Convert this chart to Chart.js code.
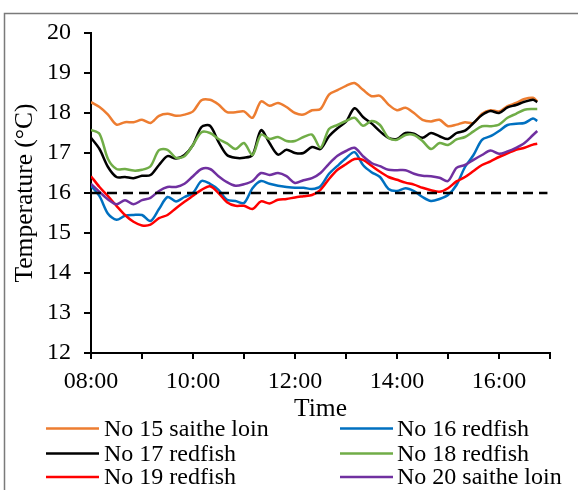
<!DOCTYPE html>
<html><head><meta charset="utf-8">
<script src="https://cdn.jsdelivr.net/npm/chart.js@4.4.1/dist/chart.umd.min.js"></script>
<style>html,body{margin:0;padding:0;background:#fff}canvas{display:block}</style>
</head><body>
<canvas id="c" width="578" height="490"></canvas>
<script>
const times = ["08:00","08:10","08:20","08:30","08:40","08:50","09:00","09:10","09:20","09:30","09:40","09:50",
"10:00","10:10","10:20","10:30","10:40","10:50","11:00","11:10","11:20","11:30","11:40","11:50",
"12:00","12:10","12:20","12:30","12:40","12:50","13:00","13:10","13:20","13:30","13:40","13:50",
"14:00","14:10","14:20","14:30","14:40","14:50","15:00","15:10","15:20","15:30","15:40","15:50",
"16:00","16:10","16:20","16:30","16:40","16:45"];
const seriesNames = ["No 15 saithe loin","No 16 redfish","No 17 redfish","No 18 redfish","No 19 redfish","No 20 saithe loin"];
const no15 = [18.27,18.15,17.96,17.71,17.77,17.77,17.83,17.75,17.93,17.98,17.93,17.96,18.04,18.32,18.33,18.21,18.02,18.02,18.04,17.88,18.29,18.18,18.25,18.15,18.0,17.96,18.07,
18.1,18.46,18.57,18.68,18.75,18.58,18.42,18.43,18.21,18.07,18.13,18.0,17.83,17.79,17.83,17.67,17.71,17.77,17.75,17.98,18.07,18.04,18.17,18.25,18.35,18.38,18.29];
const no16 = [16.18,15.92,15.48,15.33,15.43,15.45,15.45,15.3,15.6,15.9,15.79,15.9,16.0,16.3,16.23,16.08,15.83,15.8,15.75,16.12,16.3,16.23,16.18,16.15,16.13,16.13,16.1,
16.17,16.48,16.68,16.87,17.02,16.7,16.52,16.4,16.1,16.05,16.12,16.05,15.9,15.8,15.85,15.95,16.2,16.65,16.95,17.33,17.42,17.55,17.7,17.73,17.75,17.86,17.8];
const no17 = [17.38,17.1,16.65,16.4,16.4,16.37,16.43,16.45,16.7,16.92,16.86,16.95,17.2,17.65,17.68,17.28,16.95,16.88,16.88,16.95,17.57,17.25,16.96,17.08,17.0,17.0,17.15,
17.1,17.42,17.62,17.78,18.12,17.9,17.74,17.54,17.38,17.35,17.5,17.48,17.38,17.5,17.42,17.35,17.5,17.56,17.75,17.95,18.05,18.0,18.14,18.2,18.28,18.33,18.27];
const no18 = [17.58,17.48,16.85,16.6,16.6,16.56,16.58,16.67,17.07,17.08,16.88,16.92,17.2,17.52,17.5,17.35,17.24,17.1,17.25,16.95,17.46,17.35,17.4,17.3,17.3,17.4,17.46,
17.13,17.6,17.7,17.8,17.88,17.68,17.8,17.7,17.38,17.33,17.45,17.45,17.3,17.1,17.25,17.2,17.34,17.4,17.54,17.67,17.67,17.71,17.88,17.98,18.08,18.1,18.1];
const no19 = [16.42,16.15,15.92,15.68,15.45,15.28,15.19,15.21,15.37,15.45,15.62,15.78,15.93,16.08,16.17,16.0,15.77,15.68,15.68,15.6,15.79,15.74,15.83,15.85,15.89,15.92,15.95,
16.08,16.35,16.58,16.72,16.85,16.83,16.68,16.53,16.4,16.33,16.26,16.21,16.13,16.07,16.03,16.12,16.29,16.4,16.55,16.7,16.79,16.9,16.99,17.08,17.13,17.21,17.23];
const no20 = [16.23,16.03,15.84,15.72,15.82,15.72,15.82,15.88,16.05,16.15,16.15,16.23,16.42,16.6,16.6,16.42,16.27,16.18,16.22,16.3,16.5,16.45,16.5,16.42,16.25,16.32,16.37,
16.5,16.73,16.93,17.05,17.13,16.92,16.75,16.67,16.58,16.57,16.57,16.48,16.43,16.42,16.38,16.3,16.63,16.7,16.83,16.95,17.06,16.98,17.04,17.13,17.25,17.45,17.55];
const referenceTemp = 16;
const xTickLabels = ["08:00","10:00","12:00","14:00","16:00"];
const xRange = ["08:00","17:00"];
const yRange = [12, 20];

const colors = ["#ED7D31","#0070C0","#000000","#70AD47","#FF0000","#7030A0"];
const FONT = '"Liberation Serif","Times New Roman",serif';
const toHours = s => { const [h,m] = s.split(":").map(Number); return h + m/60; };
const seriesValues = [no15,no16,no17,no18,no19,no20];

const datasets = seriesValues.map((vals,i)=>({
  label: seriesNames[i],
  data: vals.map((v,j)=>({x: toHours(times[j]), y: v})),
  borderColor: colors[i], backgroundColor: colors[i],
  borderWidth: 2.5, pointRadius: 0, tension: 0.3, fill: false,
  order: 10 - i
}));
datasets.push({
  label: "16 °C",
  data: [{x: toHours(xRange[0]), y: referenceTemp},{x: toHours(xRange[1]) - 0.05, y: referenceTemp}],
  borderColor: "#000", borderWidth: 2.5, borderDash: [10,6], pointRadius: 0, order: 0
});

const decor = {
  id: 'decor',
  afterDraw(chart){
    const ctx = chart.ctx;
    ctx.save();
    ctx.strokeStyle = '#7a7a7a'; ctx.lineWidth = 1.5;
    ctx.beginPath(); ctx.moveTo(4.5, 490); ctx.lineTo(4.5, 13.5); ctx.lineTo(578, 13.5); ctx.stroke();
    const cols = [{lx:46, tx:104},{lx:340, tx:397}];
    const rows = [428.5, 453.5, 477];
    ctx.font = '24px ' + FONT; ctx.textBaseline = 'middle'; ctx.textAlign = 'left';
    for (let i = 0; i < seriesNames.length; i++){
      const c = cols[i%2], y = rows[Math.floor(i/2)];
      ctx.strokeStyle = colors[i]; ctx.lineWidth = 2.5;
      ctx.beginPath(); ctx.moveTo(c.lx, y); ctx.lineTo(c.lx+53, y); ctx.stroke();
      ctx.fillStyle = '#000';
      ctx.fillText(seriesNames[i], c.tx, y + 1);
    }
    ctx.restore();
  }
};

new Chart(document.getElementById('c'), {
  type: 'line',
  data: { datasets },
  plugins: [decor],
  options: {
    responsive: false, animation: false,
    layout: { padding: { left: 0, top: 33, right: 28, bottom: 0 } },
    plugins: { legend: { display: false }, tooltip: { enabled: false } },
    scales: {
      x: {
        type: 'linear', min: toHours(xRange[0]), max: toHours(xRange[1]),
        afterFit(s){ s.height = 137; },
        border: { display: true, color: '#000', width: 2 },
        grid: { display: true, drawOnChartArea: false, drawTicks: true, tickLength: 6, color: '#000', lineWidth: 2 },
        ticks: {
          stepSize: 1, autoSkip: false, maxRotation: 0, color: '#000', padding: 8,
          font: { family: FONT, size: 24 },
          callback: v => { const l = xTickLabels.find(t => Math.abs(toHours(t) - v) < 1e-6); return l || ''; }
        },
        title: { display: true, text: 'Time', color: '#000', font: { family: FONT, size: 25.5 }, padding: { top: 0, bottom: 65 } }
      },
      y: {
        min: yRange[0], max: yRange[1],
        afterFit(s){ s.width = 91; },
        border: { display: true, color: '#000', width: 2 },
        grid: { display: true, drawOnChartArea: false, drawTicks: true, tickLength: 7, color: '#000', lineWidth: 2 },
        ticks: { stepSize: 1, color: '#000', padding: 13, font: { family: FONT, size: 24 } },
        title: { display: true, text: 'Temperature (°C)', color: '#000', font: { family: FONT, size: 25.5 }, padding: { top: 10, bottom: 0 } }
      }
    }
  }
});
</script>
</body></html>
